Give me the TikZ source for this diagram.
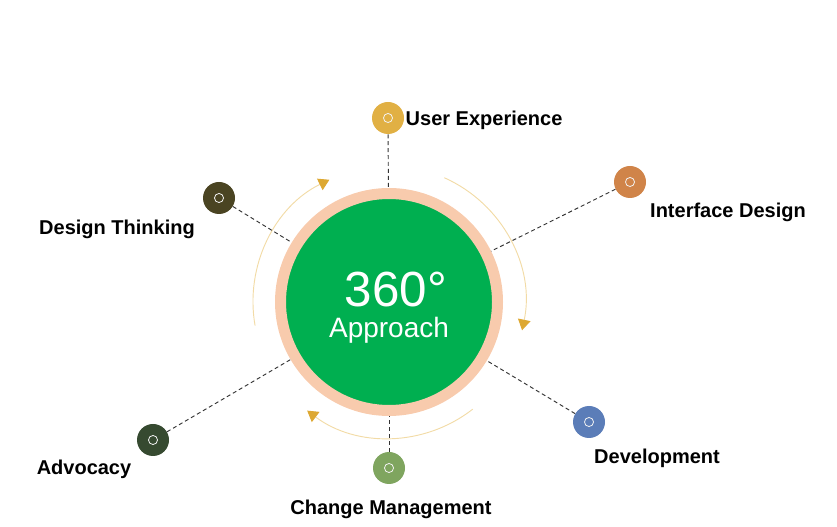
\documentclass[tikz,border=0pt]{standalone}
\usepackage{fontspec}
\setmainfont{Liberation Sans}
\usetikzlibrary{arrows.meta}

\definecolor{coregreen}{HTML}{00AF50}
\definecolor{ringpeach}{HTML}{F8CBAD}
\definecolor{arcgold}{HTML}{F2DBA6}
\definecolor{tipgold}{HTML}{DDA832}
\definecolor{uxgold}{HTML}{E1B044}
\definecolor{itorange}{HTML}{D08449}
\definecolor{dtolive}{HTML}{4A4422}
\definecolor{dvblue}{HTML}{5B7DB8}
\definecolor{cmgreen}{HTML}{7FA55F}
\definecolor{adgreen}{HTML}{364A30}

\begin{document}
\begin{tikzpicture}[x=0.75pt, y=0.75pt,
    dot/.style={circle, minimum size=24pt, inner sep=0pt,
        path picture={\draw[white!90!gray, line width=0.6pt]
            (path picture bounding box.center) circle[radius=3.4pt];}},
    link/.style={black!80, line width=0.7pt, dash pattern=on 3pt off 2.2pt},
    turn/.style={arcgold, line width=0.7pt,
        -{Triangle[color=tipgold, width=9.5pt, length=8pt]}},
    lbl/.style={font=\fontsize{15}{18}\selectfont\bfseries}]
    \useasboundingbox (0, 0) rectangle (837, 527);

    % Arrows turning round the centre
    \draw[turn] (389, 225) ++(190:136) arc[start angle=190, end angle=116, radius=136];
    \draw[turn] (389, 225) ++(66:136) arc[start angle=66, end angle=-12, radius=136];
    \draw[turn] (389, 225) ++(-52:136) arc[start angle=-52, end angle=-127, radius=136];

    % The centre circle with its ring
    \node[circle, fill=coregreen, draw=ringpeach, line width=8.25pt,
        minimum size=162.75pt, inner sep=0pt] (core) at (389, 225) {};
    \node[white, font=\fontsize{37}{40}\selectfont] (deg) at (396, 237) {360°};
    \node[white, font=\fontsize{21}{24}\selectfont] (appr) at (389, 197) {Approach};

    % The six small circles
    \foreach \n/\x/\y/\c in {
        ux/388/409/uxgold, it/630/345/itorange, dt/219/329/dtolive,
        dv/589/105/dvblue, cm/389/59/cmgreen, ad/153/87/adgreen}
    \node[dot, fill=\c] (\n) at (\x, \y) {};

    % Dashed links to the centre
    \foreach \n in {ux, it, dt, dv, cm, ad}
    \draw[link] (\n) -- (core);

    % Labels
    \node[lbl, anchor=west] (uxlbl) at (401, 407) {User Experience};
    \node[lbl] (itlbl) at (728, 315) {Interface Design};
    \node[lbl] (dtlbl) at (117, 298) {Design Thinking};
    \node[lbl] (dvlbl) at (657, 69) {Development};
    \node[lbl] (cmlbl) at (391, 18) {Change Management};
    \node[lbl] (adlbl) at (84, 58) {Advocacy};
\end{tikzpicture}
\end{document}
